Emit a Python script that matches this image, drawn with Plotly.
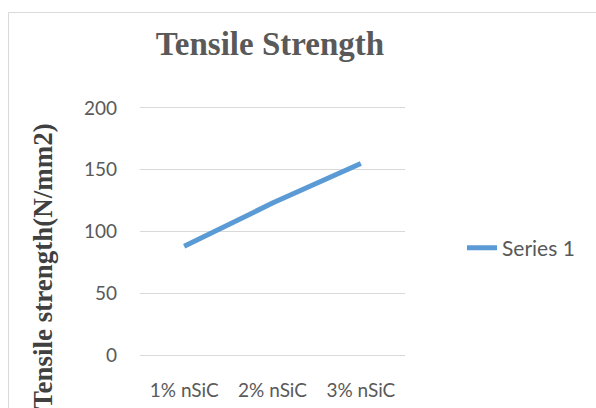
import plotly.graph_objects as go

categories = ["1% nSiC", "2% nSiC", "3% nSiC"]
values = [88, 123, 155]
series_name = "Series 1"
y_ticks = [0, 50, 100, 150, 200]

W, H = 596, 408
L, R, T, B = 140, 405, 106, 357

def px_x(x):
    return (x - L) / (R - L)

def px_y(y):
    return (B - y) / (B - T)

fig = go.Figure()
fig.add_trace(go.Scatter(
    x=categories, y=values, mode="lines", name=series_name,
    line=dict(color="#5B9BD5", width=5),
))

fig.update_layout(
    width=W, height=H,
    margin=dict(l=L, r=W - R, t=T, b=H - B, pad=0, autoexpand=False),
    paper_bgcolor="white", plot_bgcolor="white",
    title=dict(text="<b>Tensile Strength</b>", x=270 / W, xanchor="center",
               y=1 - 43 / H, yanchor="middle",
               font=dict(family="Liberation Serif", size=33, color="#595959")),
    showlegend=True,
    legend=dict(x=px_x(462), y=px_y(248), xanchor="left", yanchor="middle",
                font=dict(family="Lato", size=21, color="#595959"),
                bgcolor="rgba(0,0,0,0)"),
    xaxis=dict(type="category", range=[-0.5, 2.5], showgrid=False, zeroline=False,
               showline=False, ticks="", ticklabelstandoff=20, automargin=False,
               tickfont=dict(family="Lato", size=19, color="#595959")),
    yaxis=dict(range=[-1.6, 201.6], tickvals=y_ticks, showgrid=True, gridcolor="#D9D9D9",
               gridwidth=1, zeroline=True, zerolinecolor="#D9D9D9", zerolinewidth=1,
               showline=False, ticks="", automargin=False,
               ticklabelstandoff=22,
               tickfont=dict(family="Lato", size=19, color="#595959")),
)

fig.add_annotation(
    text="<b>Tensile strength(N/mm2)</b>", textangle=-90,
    xref="paper", yref="paper", x=px_x(43), y=px_y(121),
    xanchor="center", yanchor="top", showarrow=False,
    font=dict(family="Liberation Serif", size=27, color="#404040"),
)

fig.add_shape(type="rect", xref="paper", yref="paper",
              x0=px_x(8.5), y0=px_y(12.5), x1=px_x(700), y1=px_y(500),
              line=dict(color="#D9D9D9", width=1), layer="below")

fig.write_html("out.html")
